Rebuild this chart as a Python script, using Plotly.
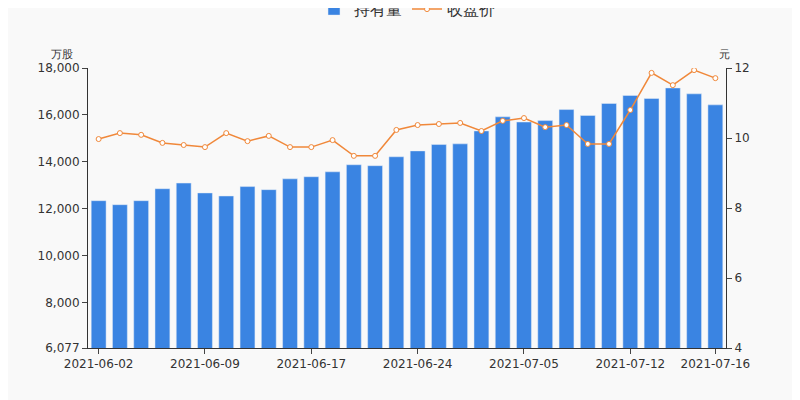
import plotly.graph_objects as go

dates = ["2021-06-02", "2021-06-03", "2021-06-04", "2021-06-07", "2021-06-08", "2021-06-09",
         "2021-06-10", "2021-06-11", "2021-06-15", "2021-06-16", "2021-06-17", "2021-06-18",
         "2021-06-21", "2021-06-22", "2021-06-23", "2021-06-24", "2021-06-25", "2021-06-28",
         "2021-06-29", "2021-06-30", "2021-07-05", "2021-07-06", "2021-07-07", "2021-07-08",
         "2021-07-09", "2021-07-12", "2021-07-13", "2021-07-14", "2021-07-15", "2021-07-16"]
holding = [12350, 12180, 12350, 12860, 13100, 12680, 12550, 12950, 12820, 13280,
           13370, 13580, 13880, 13840, 14220, 14470, 14740, 14770, 15320, 15920,
           15700, 15760, 16230, 15980, 16490, 16830, 16700, 17150, 16900, 16430]
price = [9.97, 10.14, 10.09, 9.86, 9.80, 9.74, 10.14, 9.91, 10.06, 9.74,
         9.74, 9.94, 9.49, 9.49, 10.23, 10.37, 10.40, 10.43, 10.20, 10.49,
         10.57, 10.31, 10.37, 9.83, 9.83, 10.80, 11.86, 11.51, 11.94, 11.71]
tick_dates = ["2021-06-02", "2021-06-09", "2021-06-17", "2021-06-24", "2021-07-05", "2021-07-12", "2021-07-16"]

fig = go.Figure()
fig.add_trace(go.Bar(x=dates, y=holding, name="持有量", marker_color="#3a84e2", width=0.7))
fig.add_trace(go.Scatter(x=dates, y=price, name="收盘价", yaxis="y2", mode="lines+markers",
                         line=dict(color="#f0883a", width=1.5),
                         marker=dict(size=5, color="white", line=dict(color="#f0883a", width=1))))

fig.update_layout(
    width=800, height=400, paper_bgcolor="#f9f9f9", plot_bgcolor="#f9f9f9",
    margin=dict(l=80, r=82, t=60, b=60, autoexpand=False),
    font=dict(family="DejaVu Sans", size=12, color="#333"),
    bargap=0.3,
    legend=dict(orientation="h", x=0.5, xanchor="center", y=1.21, yanchor="middle", font=dict(size=16)),
    xaxis=dict(type="category", tickvals=tick_dates, range=[-0.5, 29.5], ticks="outside",
               showline=True, linecolor="#333", showgrid=False),
    yaxis=dict(range=[6077, 18000], tickvals=[6077, 8000, 10000, 12000, 14000, 16000, 18000],
               tickformat=",", ticks="outside", showline=True, linecolor="#333", showgrid=False,
               zeroline=False),
    yaxis2=dict(range=[4, 12], dtick=2, overlaying="y", side="right", ticks="outside",
                showline=True, linecolor="#333", showgrid=False, zeroline=False),
    annotations=[
        dict(text="万股", xref="paper", yref="paper", x=-0.02, y=1.08, showarrow=False,
             xanchor="right", font=dict(size=11)),
        dict(text="元", xref="paper", yref="paper", x=1.01, y=1.08, showarrow=False,
             xanchor="right", font=dict(size=11)),
    ],
)
fig.write_html("out.html")
